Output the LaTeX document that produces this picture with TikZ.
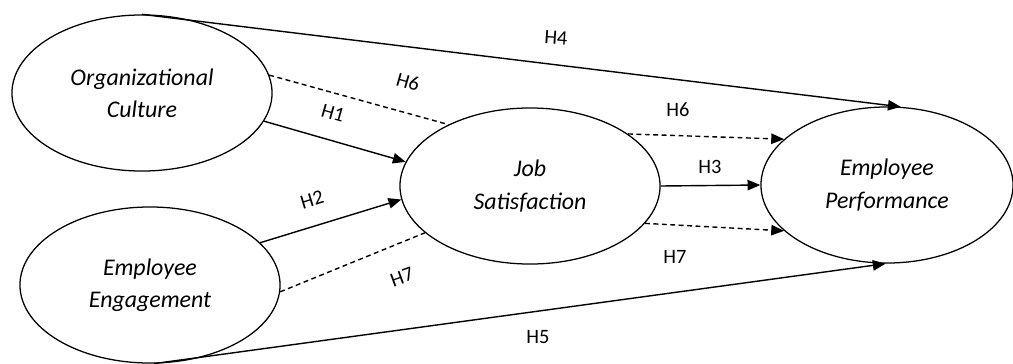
\documentclass[tikz,border=0pt]{standalone}
\usepackage{fontspec}
\setmainfont{Carlito}
\usepackage{tikz}
\usetikzlibrary{arrows.meta}
\usetikzlibrary{shapes.geometric}

\tikzset{
    construct/.style={draw, ellipse, line width=0.9pt, inner sep=0pt,
        minimum width=6.5cm, minimum height=3.9cm, align=center,
        font=\itshape\fontsize{17}{23}\selectfont},
    hyppath/.style={line width=1pt, -{Triangle[length=0.32cm, width=0.26cm]}},
    mediated/.style={line width=1pt, dash pattern=on 3.5pt off 2.5pt},
    hlabel/.style={font=\fontsize{14.5}{16}\selectfont, inner sep=0pt}
}

\begin{document}
\begin{tikzpicture}[x=0.025cm, y=-0.025cm]
    \useasboundingbox (0,0) rectangle (1013,363);

    \node[construct] (orgc) at (142,93)  {Organizational\\Culture};
    \node[construct] (enga) at (150,285) {Employee\\Engagement};
    \node[construct] (jobs) at (530,186) {Job\\Satisfaction};
    \node[construct, minimum width=6.3cm] (perf) at (887,185) {Employee\\Performance};

    % direct paths
    \draw[hyppath] (orgc.north) -- (perf.80);
    \draw[hyppath] (orgc.-13.5) -- (jobs.169.7);
    \draw[hyppath] (enga.21.3) -- (jobs.186);
    \draw[hyppath] (jobs.east) -- (perf.west);
    \draw[hyppath] (enga.-87) -- (perf.-91.5);

    % mediation
    \draw[mediated] (orgc.8.7) -- (jobs.143);
    \draw[mediated] (enga.-3) -- (jobs.204.6);
    \draw[mediated, hyppath] (jobs.28.9) -- (perf.156);
    \draw[mediated, hyppath] (jobs.-18.7) -- (perf.204.6);

    \foreach \coord/\txt/\ang [count=\i] in {
        {556,38}/H4/-4,
        {408,82}/H6/-16,
        {333,113}/H1/-16,
        {312,200}/H2/17,
        {402,277}/H7/20,
        {678,110}/H6/0,
        {710,167}/H3/0,
        {675,257}/H7/0,
        {538,337}/H5/0
    }{
        \node[hlabel, rotate=\ang] (lbl\i) at (\coord) {\txt};
    }

\end{tikzpicture}
\end{document}
